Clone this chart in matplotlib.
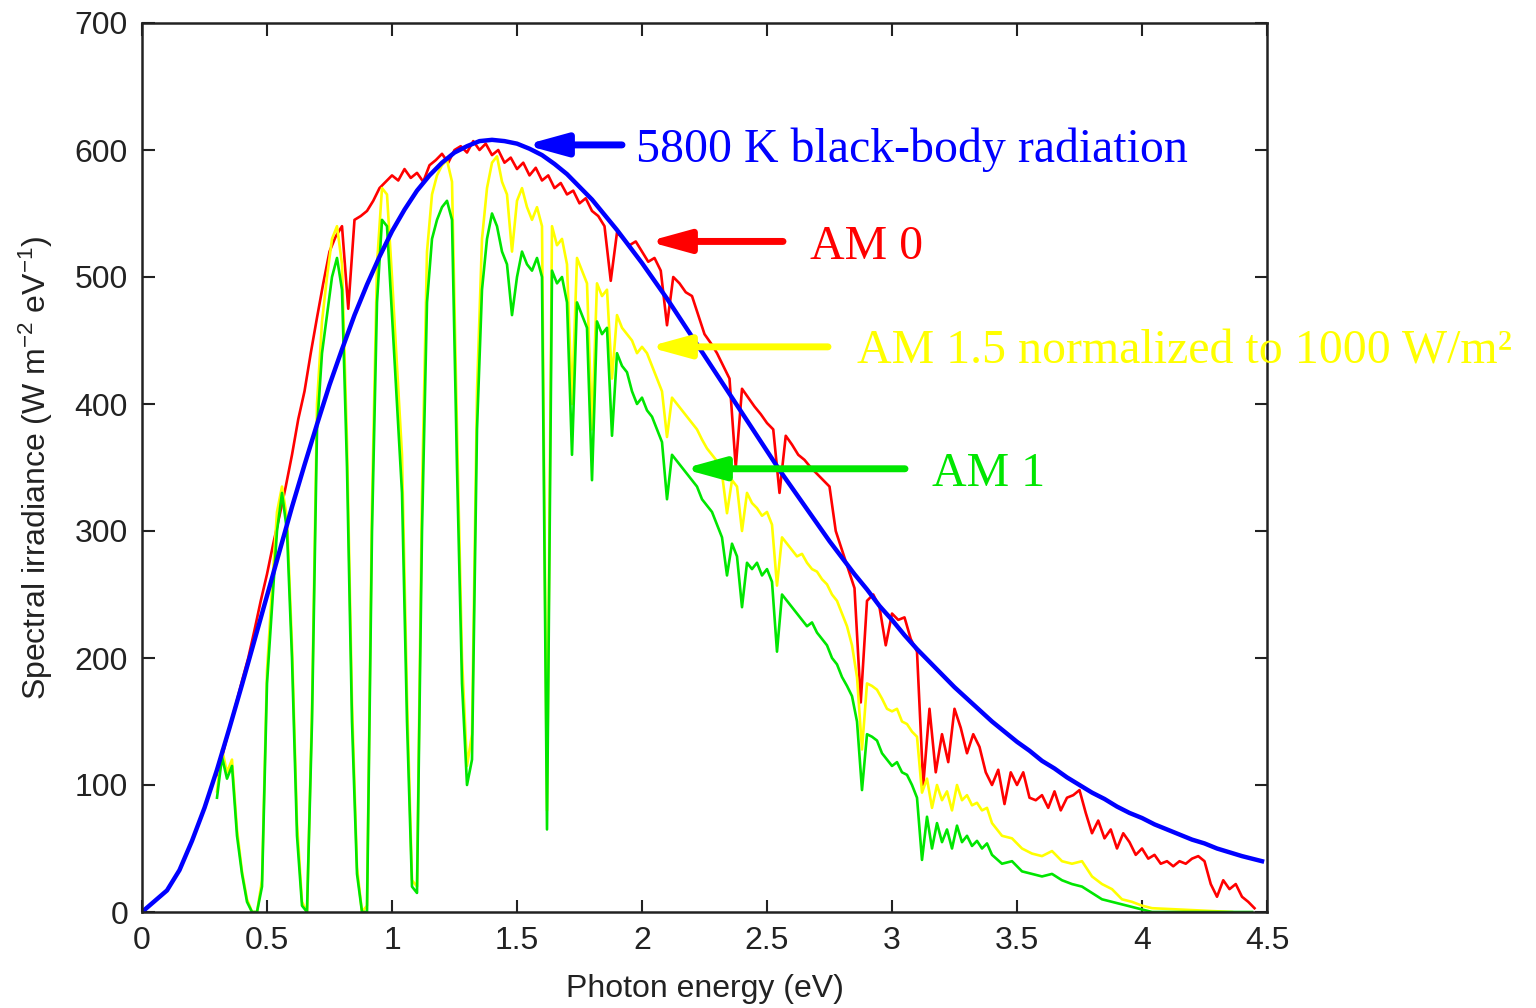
import numpy as np
import matplotlib
matplotlib.use("Agg")
import matplotlib.pyplot as plt

plt.rcParams['font.family'] = ['Liberation Sans', 'DejaVu Sans']
plt.rcParams['mathtext.fontset'] = 'custom'
plt.rcParams['mathtext.rm'] = 'Liberation Sans'
plt.rcParams['mathtext.it'] = 'Liberation Sans'

# 5800 K black body
bb_energy = [0.0, 0.1, 0.15, 0.2, 0.25, 0.3, 0.35, 0.4, 0.45, 0.5,
             0.55, 0.6, 0.65, 0.7, 0.75, 0.8, 0.85, 0.9, 0.95, 1.0,
             1.05, 1.1, 1.15, 1.2, 1.25, 1.3, 1.35, 1.4, 1.45, 1.5,
             1.55, 1.6, 1.65, 1.7, 1.75, 1.8, 1.85, 1.9, 1.95, 2.0,
             2.05, 2.1, 2.15, 2.2, 2.25, 2.3, 2.35, 2.4, 2.45, 2.5,
             2.55, 2.6, 2.65, 2.7, 2.75, 2.8, 2.85, 2.9, 2.95, 3.0,
             3.05, 3.1, 3.15, 3.2, 3.25, 3.3, 3.35, 3.4, 3.45, 3.5,
             3.55, 3.6, 3.65, 3.7, 3.75, 3.8, 3.85, 3.9, 3.95, 4.0,
             4.05, 4.1, 4.15, 4.2, 4.25, 4.3, 4.35, 4.4, 4.48]
bb_irr = [0, 17, 33, 56, 82, 112, 145, 179, 214, 249,
          284, 319, 352, 384, 415, 443, 470, 494, 516, 536,
          553, 568, 580, 590, 598, 603, 607, 608, 607, 605,
          601, 596, 589, 581, 571, 561, 549, 537, 524, 511,
          497, 483, 468, 453, 438, 423, 408, 393, 378, 363,
          348, 334, 320, 306, 292, 279, 266, 254, 241, 230,
          218, 207, 197, 187, 177, 168, 159, 150, 142, 134,
          127, 119, 113, 106, 100, 94, 89, 83, 78, 74,
          69, 65, 61, 57, 54, 50, 47, 44, 40]

# AM 0, sampled every 0.025 eV from 0.30 to 4.45 eV
am0_energy = np.linspace(0.30, 4.45, 167)
am0_irr = [108, 126, 145, 163, 182, 200, 222, 245, 266, 290,
           312, 335, 360, 388, 410, 440, 468, 495, 520, 532,
           540, 475, 545, 548, 552, 560, 570, 575, 580, 576,
           585, 578, 582, 575, 588, 592, 597, 590, 600, 603,
           598, 607, 600, 605, 596, 600, 590, 594, 585, 590,
           580, 586, 576, 580, 570, 574, 565, 568, 558, 562,
           552, 548, 540, 497, 535, 530, 525, 528, 520, 512,
           515, 505, 462, 500, 495, 488, 485, 470, 455, 448,
           440, 430, 420, 350, 412, 405, 398, 392, 385, 380,
           330, 375, 368, 360, 356, 350, 345, 340, 335, 300,
           285, 270, 255, 165, 245, 250, 240, 210, 235, 230,
           232, 215, 205, 100, 160, 110, 140, 118, 160, 145,
           125, 140, 130, 110, 100, 112, 85, 110, 100, 110,
           90, 88, 92, 82, 95, 80, 90, 92, 96, 78,
           62, 72, 58, 65, 50, 62, 55, 45, 50, 42,
           45, 38, 40, 36, 40, 38, 42, 44, 40, 22,
           12, 25, 18, 22, 12, 8, 3]

# AM 1.5 and AM 1 share one energy grid
atm_energy = list(np.round(np.arange(0.30, 3.401, 0.02), 2)) + \
             list(np.round(np.arange(3.44, 4.041, 0.04), 2)) + [4.36]

am15_irr = [95, 128, 110, 120, 65, 32, 10, 0, 0, 25,
            190, 255, 315, 335, 310, 210, 70, 8, 0, 160,
            400, 465, 500, 530, 540, 510, 370, 165, 35, 0,
            5, 320, 510, 570, 565, 500, 430, 360, 170, 25,
            20, 330, 520, 565, 580, 588, 592, 575, 380, 200,
            115, 140, 410, 530, 570, 590, 595, 575, 565, 520,
            560, 570, 555, 545, 555, 540, 80, 540, 525, 530,
            510, 400, 515, 505, 495, 380, 495, 485, 490, 420,
            470, 460, 455, 450, 440, 445, 440, 430, 420, 410,
            374, 405, 400, 395, 390, 385, 380, 372, 365, 360,
            355, 345, 314, 340, 335, 300, 330, 322, 318, 312,
            315, 305, 257, 295, 290, 285, 280, 282, 275, 270,
            268, 262, 258, 250, 245, 235, 225, 210, 185, 128,
            180, 178, 175, 168, 160, 158, 160, 150, 148, 142,
            138, 94, 105, 82, 100, 88, 95, 80, 100, 88,
            92, 84, 86, 80, 82, 70,
            60, 58, 50, 46, 44, 48, 40, 38, 40, 28, 22, 18, 10, 8, 5, 3,
            0]

am1_irr = [90, 122, 105, 115, 60, 30, 8, 0, 0, 20,
           180, 240, 300, 330, 300, 200, 60, 5, 0, 150,
           380, 440, 470, 500, 515, 490, 350, 150, 30, 0,
           0, 300, 480, 545, 540, 470, 400, 330, 150, 20,
           15, 300, 480, 530, 545, 555, 560, 545, 350, 180,
           100, 120, 380, 490, 530, 550, 540, 520, 510, 470,
           500, 520, 510, 505, 515, 500, 65, 505, 495, 500,
           480, 360, 480, 470, 460, 340, 465, 455, 460, 375,
           440, 430, 425, 410, 400, 405, 395, 390, 380, 370,
           325, 360, 355, 350, 345, 340, 335, 325, 320, 315,
           305, 295, 265, 290, 280, 240, 275, 270, 275, 265,
           270, 260, 205, 250, 245, 240, 235, 230, 225, 228,
           220, 215, 210, 200, 195, 185, 178, 170, 150, 96,
           140, 138, 135, 125, 120, 115, 118, 110, 108, 100,
           90, 41, 75, 50, 70, 55, 65, 50, 68, 55,
           60, 52, 56, 50, 54, 45,
           38, 40, 32, 30, 28, 30, 25, 22, 20, 15, 10, 8, 6, 4, 2, 0,
           0]
am1_energy = atm_energy + [4.44]
am1_irr = am1_irr + [0]

fig = plt.figure(figsize=(15.36, 10.08), dpi=100)
ax = fig.add_axes([142 / 1536, 1 - 912 / 1008, (1267 - 142) / 1536, (912 - 23) / 1008])

ax.plot(am0_energy, am0_irr, color='#ff0000', lw=1.9)
ax.plot(atm_energy, am15_irr, color='#ffff00', lw=1.9)
ax.plot(am1_energy, am1_irr, color='#00e600', lw=1.9)
ax.plot(bb_energy, bb_irr, color='#0000ff', lw=3.2)

ax.set_xlim(0, 4.5)
ax.set_ylim(0, 700)
ax.set_xticks(np.arange(0, 4.51, 0.5))
ax.set_xticklabels(['0', '0.5', '1', '1.5', '2', '2.5', '3', '3.5', '4', '4.5'])
ax.set_yticks(range(0, 701, 100))
ax.tick_params(direction='in', length=9, width=1.5, top=True, right=True,
               labelsize=23, pad=10, colors='#222222')
for s in ax.spines.values():
    s.set_linewidth(1.8)
    s.set_color('#222222')

ax.set_xlabel('Photon energy (eV)', fontsize=23, labelpad=13, color='#222222')
ax.set_ylabel('Spectral irradiance (W m$^{-2}$ eV$^{-1}$)', fontsize=23,
              labelpad=14, color='#222222')

# labels with arrows
serif = ['Liberation Serif', 'DejaVu Serif']
notes = [
    ('5800 K black-body radiation', '#0000ff', 1.532, 1.92, 604, 1.976),
    ('AM 0', '#ff0000', 2.024, 2.564, 528, 2.672),
    ('AM 1.5 normalized to 1000 W/m²', '#ffff00', 2.024, 2.744, 445, 2.86),
    ('AM 1', '#00e600', 2.164, 3.052, 349, 3.16),
]
for label, col, x_tip, x_tail, y, x_text in notes:
    ax.annotate('', xy=(x_tip, y), xytext=(x_tail, y),
                arrowprops=dict(arrowstyle='-|>,head_length=0.8,head_width=0.22',
                                color=col, lw=5, mutation_scale=30,
                                shrinkA=0, shrinkB=0))
    ax.text(x_text, y - 4, label, color=col, fontsize=34.5, family=serif,
            va='center', ha='left', clip_on=False)

fig.savefig('out.png', dpi=100)
